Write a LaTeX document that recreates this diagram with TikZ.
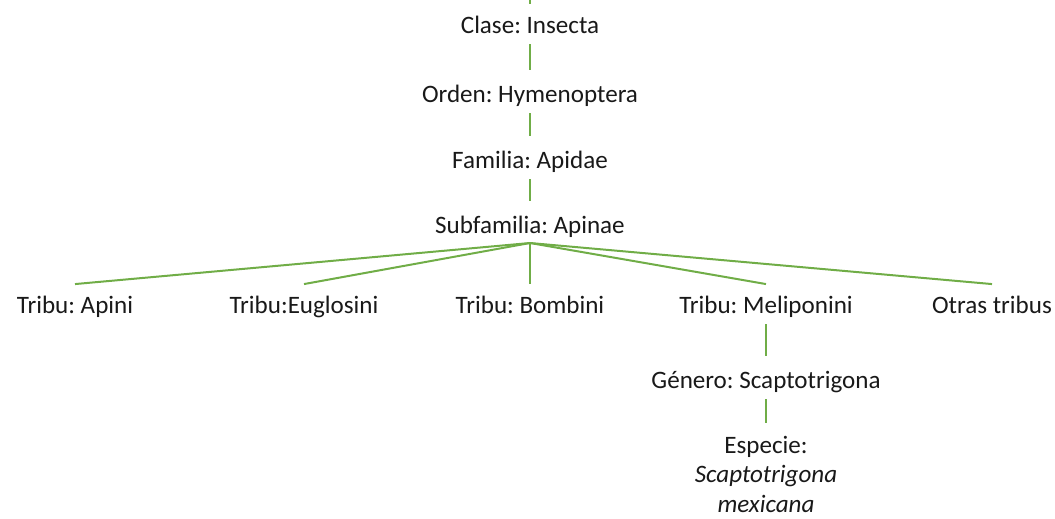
\documentclass[tikz,border=0pt]{standalone}
\usepackage{fontspec}
\setmainfont{Carlito}
\usetikzlibrary{positioning}
\definecolor{linkgreen}{RGB}{112,173,71}
\begin{document}
\frenchspacing
\begin{tikzpicture}[x=0.75pt, y=-0.75pt,
    every node/.style={font=\fontsize{18.8}{22}\selectfont, text=black!90,
      inner sep=0pt, text height=14pt, text depth=4.5pt},
    rank/.style={anchor=base},
    link/.style={draw=linkgreen, line width=1.5pt, shorten <=3.75pt, shorten >=10pt},
    fan/.style={draw=linkgreen, line width=1.5pt}]
    \useasboundingbox (0,0) rectangle (1055,518);
    % main line
    \node[rank] (clase) at (530,33) {Clase: Insecta};
    \node[rank] (orden) at (530,102) {Orden: Hymenoptera};
    \node[rank] (familia) at (530,168) {Familia: Apidae};
    \node[rank] (subfam) at (530,233) {Subfamilia: Apinae};
    % tribus
    \node[rank] (apini) at (75,313) {Tribu: Apini};
    \node[rank] (euglosini) at (304,313) {Tribu:Euglosini};
    \node[rank] (bombini) at (530,313) {Tribu: Bombini};
    \node[rank] (meliponini) at (766,313) {Tribu: Meliponini};
    \node[rank] (otras) at (992,313) {Otras tribus};
    \node[rank] (genero) at (766,388) {Género: Scaptotrigona};
    \node[anchor=north, align=center, text height=, text depth=] (especie) at (766,436)
      {Especie:\\ \textit{Scaptotrigona}\\ \textit{mexicana}};
    \coordinate (top) at (530,0);
    \coordinate (topend) at (530,4);
    \coordinate (hub) at (530,243);
    \draw[fan] (top) -- (topend);
    \draw[link] (clase) -- (orden);
    \draw[link] (orden) -- (familia);
    \draw[link] (familia) -- (subfam);
    \foreach \t in {apini, euglosini, bombini, meliponini, otras}
      \draw[fan] (hub) -- ([yshift=7.5pt]\t.north);
    \draw[link] (meliponini) -- (genero);
    \draw[link] (genero) -- (especie);
  \end{tikzpicture}
\end{document}
